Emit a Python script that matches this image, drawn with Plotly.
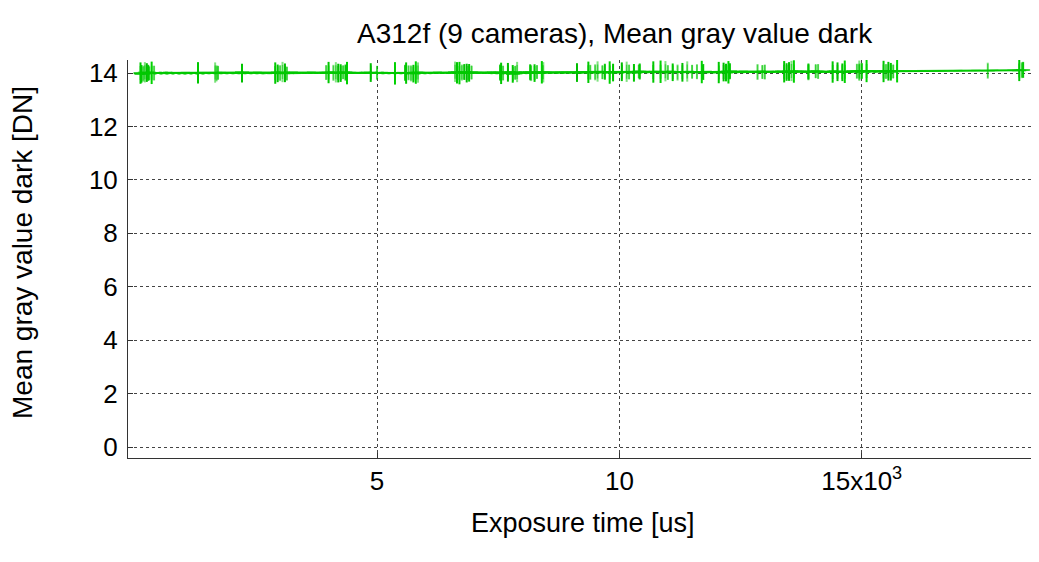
import plotly.graph_objects as go

# Exposure times [us] per camera
cam_x = [
    [120, 1306, 2900, 4000, 5600, 6650, 7560, 9360, 10700, 12050, 13400, 14400, 15450, 18250],
    [180, 1690, 3000, 4100, 5700, 6750, 8180, 9500, 11200, 12850, 13900, 14950, 17600, 18300],
    [250, 2214, 3100, 4200, 4870, 6850, 7700, 9125, 10050, 11300, 12150, 13500, 14500, 15550],
    [300, 1720, 3140, 4300, 5000, 6950, 7850, 8300, 9650, 10400, 11500, 12950, 14050, 15650],
    [350, 4380, 5370, 5800, 6700, 8400, 9800, 10850, 11700, 12250, 13600, 14650, 15100, 15730],
    [400, 3950, 5650, 7600, 9400, 10200, 11000, 11600, 13000, 14100, 14900, 15500],
    [140, 2950, 4250, 5750, 6900, 7800, 8250, 9870, 10300, 11100, 12200, 13450, 14600, 15600],
    [210, 1660, 3050, 4150, 5845, 6610, 7890, 8430, 9550, 10150, 10950, 11400, 13550, 14950],
    [280, 2214, 4350, 5580, 6800, 7540, 8160, 9700, 10420, 11730, 12280, 13900, 15000, 18330],
]
# Mean gray value dark [DN] per camera
cam_y = [
    [14.00, 14.01, 14.00, 14.02, 14.00, 14.01, 13.99, 14.03, 14.04, 14.02, 14.05, 14.04, 14.06, 14.10],
    [13.98, 13.99, 14.00, 14.01, 13.99, 14.02, 14.00, 14.03, 14.02, 14.04, 14.03, 14.05, 14.09, 14.11],
    [14.02, 14.00, 14.01, 14.00, 14.02, 14.00, 14.03, 14.02, 14.05, 14.03, 14.04, 14.06, 14.05, 14.07],
    [13.99, 14.01, 13.98, 14.03, 14.01, 14.02, 14.01, 14.04, 14.03, 14.06, 14.05, 14.04, 14.07, 14.06],
    [14.01, 14.00, 13.99, 14.02, 14.00, 14.03, 14.02, 14.05, 14.04, 14.03, 14.06, 14.05, 14.08, 14.07],
    [14.00, 14.02, 14.01, 14.00, 14.03, 14.04, 14.02, 14.05, 14.04, 14.06, 14.07, 14.06],
    [13.97, 13.99, 14.00, 13.98, 14.01, 13.97, 14.00, 14.02, 14.01, 14.03, 14.02, 14.04, 14.03, 14.05],
    [14.03, 14.02, 14.04, 14.03, 14.02, 14.05, 14.04, 14.03, 14.06, 14.05, 14.07, 14.06, 14.08, 14.09],
    [14.01, 14.03, 14.02, 14.01, 14.04, 14.02, 14.03, 14.05, 14.06, 14.04, 14.07, 14.06, 14.08, 14.12],
]
# Standard deviation (error bar half-length) per camera [DN]
cam_err = [0.40, 0.30, 0.35, 0.25, 0.42, 0.28, 0.33, 0.38, 0.30]

colors = ["rgba(0,200,0,1)", "rgba(0,200,0,0.5)", "rgba(0,190,0,1)",
          "rgba(0,200,0,0.55)", "rgba(0,210,0,1)", "rgba(0,200,0,0.5)",
          "rgba(0,200,0,1)", "rgba(0,200,0,0.5)", "rgba(0,200,0,0.9)"]
dashes = ["solid", "dash", "dot", "dashdot", "solid", "dash", "dot", "dash", "solid"]

fig = go.Figure()
for i in range(len(cam_x)):
    fig.add_trace(go.Scatter(
        x=cam_x[i], y=cam_y[i], mode="lines+markers",
        line=dict(color=colors[i], width=1.5, dash=dashes[i]),
        marker=dict(symbol="cross-thin", size=10, line=dict(color=colors[i], width=1.5)),
        error_y=dict(type="constant", value=cam_err[i], color=colors[i], thickness=2, width=0),
        showlegend=False,
    ))

# The page body adds an 8 px offset; figure coordinates = screen - 8
font_family = "Liberation Sans, Arial, sans-serif"
W, H = 1031, 554
L, R, T, B = 120, 2, 52, 104
PW, PH = W - L - R, H - T - B


def px_x(sx):
    return (sx - 8 - L) / PW


def px_y(sy):
    return (H - B - (sy - 8)) / PH


fig.update_layout(
    width=W, height=H,
    margin=dict(l=L, r=R, t=T, b=B, autoexpand=False),
    plot_bgcolor="white", paper_bgcolor="white",
    font=dict(family=font_family, size=27, color="black"),
    xaxis=dict(
        range=[-138, 18616],
        tickvals=[5000, 10000, 15000],
        ticktext=["5", "10", "15x10<sup>3</sup>"],
        showgrid=True, gridcolor="#444", griddash="dot", gridwidth=1,
        showline=True, linecolor="#333", linewidth=1,
        ticks="inside", ticklen=5, tickcolor="#333",
        zeroline=False, automargin=False,
        tickfont=dict(size=26),
    ),
    yaxis=dict(
        range=[-0.41, 14.49],
        tickvals=[0, 2, 4, 6, 8, 10, 12, 14],
        showgrid=True, gridcolor="#444", griddash="dot", gridwidth=1,
        showline=True, linecolor="#333", linewidth=1,
        ticks="inside", ticklen=5, tickcolor="#333",
        zeroline=False, automargin=False,
        tickfont=dict(size=26), ticklabelstandoff=4,
    ),
    annotations=[
        dict(text="A312f (9 cameras), Mean gray value dark",
             xref="paper", yref="paper", x=px_x(615), y=px_y(33),
             xanchor="center", yanchor="middle", showarrow=False,
             font=dict(size=28, family=font_family)),
        dict(text="Exposure time [us]",
             xref="paper", yref="paper", x=px_x(583), y=px_y(523),
             xanchor="center", yanchor="middle", showarrow=False,
             font=dict(size=27, family=font_family)),
        dict(text="Mean gray value dark [DN]", textangle=-90,
             xref="paper", yref="paper", x=px_x(22), y=px_y(253),
             xanchor="center", yanchor="middle", showarrow=False,
             font=dict(size=28, family=font_family)),
    ],
)

fig.write_html("out.html")
